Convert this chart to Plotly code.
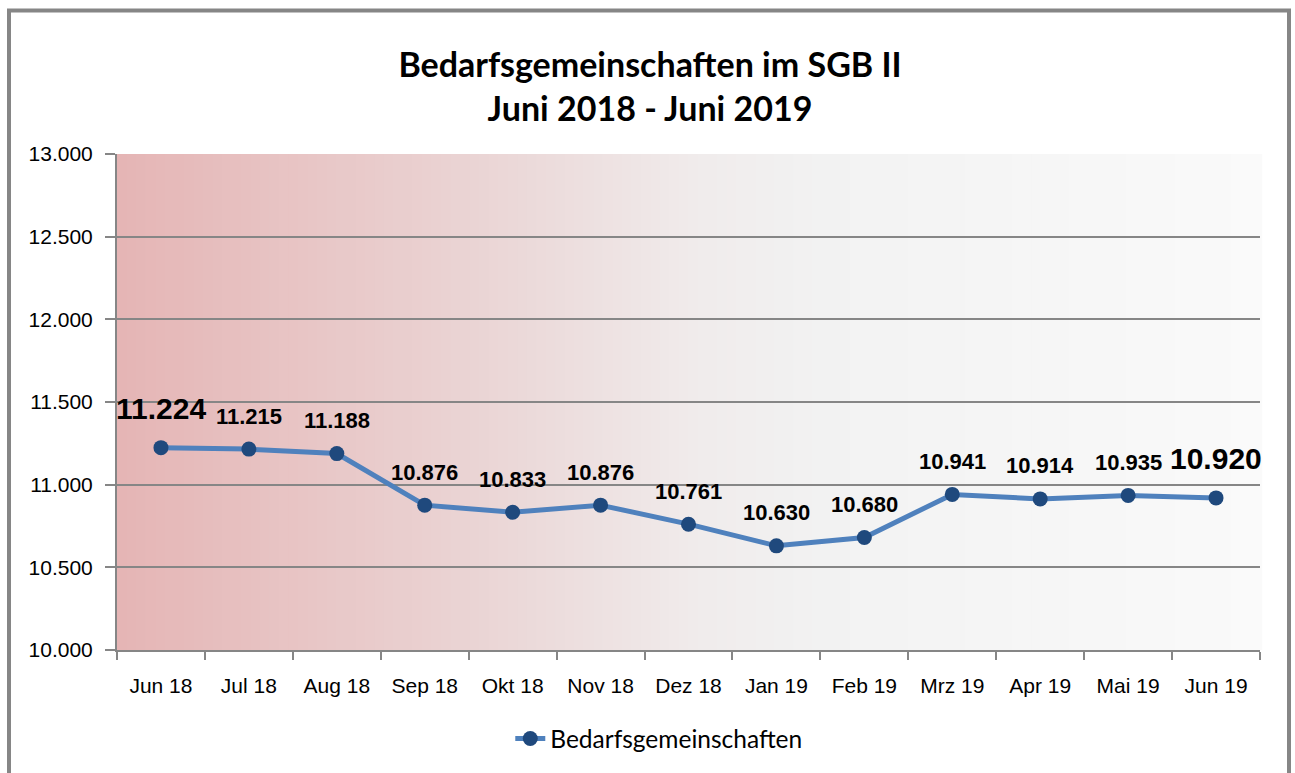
import plotly.graph_objects as go

months = ["Jun 18", "Jul 18", "Aug 18", "Sep 18", "Okt 18", "Nov 18", "Dez 18",
          "Jan 19", "Feb 19", "Mrz 19", "Apr 19", "Mai 19", "Jun 19"]
values = [11224, 11215, 11188, 10876, 10833, 10876, 10761,
          10630, 10680, 10941, 10914, 10935, 10920]
series_name = "Bedarfsgemeinschaften"
title_lines = ["Bedarfsgemeinschaften im SGB II", "Juni 2018 - Juni 2019"]
y_ticks = [10000, 10500, 11000, 11500, 12000, 12500, 13000]

W, H = 1295, 773
L, R, T, B = 117, 35, 154, 121
pw, ph = W - L - R, H - T - B

def fmt(v):
    return f"{v:,}".replace(",", ".")

fig = go.Figure()
fig.add_trace(go.Scatter(
    x=months, y=values, mode="lines+markers", name=series_name,
    line=dict(color="#4F81BD", width=5),
    marker=dict(color="#1F497D", size=15),
))

# gradient background stripes
def lerp(c1, c2, t):
    return tuple(round(a + (b - a) * t) for a, b in zip(c1, c2))

stops = [(0.0, (229, 181, 181)), (0.35, (235, 216, 216)), (0.5, (240, 235, 235)),
         (0.62, (242, 242, 242)), (1.0, (250, 250, 250))]
N = 120
shapes = []
for i in range(N):
    t = (i + 0.5) / N
    for j in range(len(stops) - 1):
        if stops[j][0] <= t <= stops[j + 1][0]:
            u = (t - stops[j][0]) / (stops[j + 1][0] - stops[j][0])
            c = lerp(stops[j][1], stops[j + 1][1], u)
            break
    shapes.append(dict(type="rect", xref="x domain", yref="y domain",
                       x0=i / N, x1=(i + 1) / N + 0.002, y0=0, y1=1,
                       fillcolor=f"rgb{c}", line=dict(width=0), layer="below"))

# outer frame
shapes.append(dict(type="rect", xref="paper", yref="paper",
                   x0=(9 - L) / pw, x1=(1289 - L) / pw,
                   y0=(H - B - 800) / ph, y1=(H - B - 10) / ph,
                   line=dict(color="#868686", width=4), fillcolor="rgba(0,0,0,0)",
                   layer="above"))

annotations = []
for i, (m, v) in enumerate(zip(months, values)):
    big = i == 0 or i == len(values) - 1
    annotations.append(dict(
        x=m, y=v, xref="x", yref="y", text="<b>" + fmt(v) + "</b>", showarrow=False,
        yshift=39 if big else 33,
        font=dict(family="Liberation Sans Narrow, Arial Narrow, Liberation Sans, Arial",
                  size=30 if big else 22, color="#000000"),
    ))

fig.update_layout(
    width=W, height=H,
    margin=dict(l=L, r=R, t=T, b=B),
    paper_bgcolor="white", plot_bgcolor="rgba(0,0,0,0)",
    separators=",.",
    title=dict(text="<b>" + title_lines[0] + "<br>" + title_lines[1] + "</b>",
               x=650 / W, xanchor="center", y=1 - 77 / H, yanchor="middle",
               font=dict(family="Lato, Open Sans, sans-serif", size=34, color="#000000")),
    showlegend=True,
    legend=dict(orientation="h", x=0.474, xanchor="center", y=(652 - 741) / ph,
                yanchor="middle", font=dict(family="Lato, Open Sans, sans-serif", size=24.5,
                                            color="#000000"),
                bgcolor="rgba(0,0,0,0)"),
    shapes=shapes,
    annotations=annotations,
    font=dict(family="Liberation Sans, Arial", color="#000000"),
)
fig.update_xaxes(
    type="category", showgrid=False, showline=True, linecolor="#868686", linewidth=2,
    ticks="outside", tickson="boundaries", ticklen=8, tickcolor="#868686", tickwidth=2,
    tickfont=dict(family="Liberation Sans, Arial", size=21, color="#000000"),
    ticklabelstandoff=16,
    range=[-0.5, len(months) - 0.5],
)
fig.update_yaxes(
    range=[10000, 13000], tickvals=y_ticks, tickformat=",d",
    showgrid=True, gridcolor="#868686", gridwidth=2,
    showline=True, linecolor="#868686", linewidth=2,
    ticks="outside", ticklen=10, tickcolor="#868686", tickwidth=2,
    tickfont=dict(family="Liberation Sans, Arial", size=21, color="#000000"),
    ticklabelstandoff=8,
    zeroline=False,
)

fig.write_html("out.html", config={"displayModeBar": False},
               post_script="document.body.style.margin='0';")
